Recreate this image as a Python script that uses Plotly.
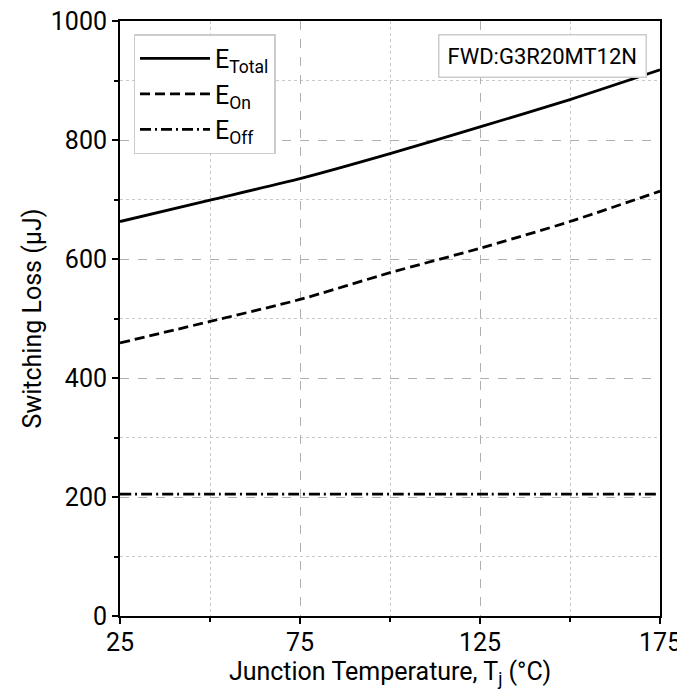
import plotly.graph_objects as go

tj = [25, 50, 75, 100, 125, 150, 175]
e_total = [663, 699, 735, 777, 822, 868, 918]
e_on = [459, 495, 532, 577, 618, 663, 714]
e_off = [205, 205, 205, 205, 205, 205, 205]
series_names = ["E<sub>Total</sub>", "E<sub>On</sub>", "E<sub>Off</sub>"]
x_ticks = [25, 75, 125, 175]
y_ticks = [0, 200, 400, 600, 800, 1000]
device_label = "FWD:G3R20MT12N"

FONT = "Roboto"

fig = go.Figure()
for name, ys, dash in zip(series_names, [e_total, e_on, e_off],
                          ["solid", "10px,5px", "11px,4px,2px,4px"]):
    fig.add_trace(go.Scatter(x=tj, y=ys, mode="lines", name=name,
                             line=dict(color="black", width=2.8, dash=dash, shape="spline", smoothing=0.6)))

axis_common = dict(
    showline=True, linecolor="black", linewidth=2, mirror=True,
    ticks="outside", ticklen=6, tickwidth=1.5, tickcolor="black",
    showgrid=True, gridcolor="#b0b0b0", gridwidth=1, griddash="dash",
    zeroline=False, automargin=False, ticklabeloverflow="allow",
    tickfont=dict(family=FONT, size=25, color="black"),
)

fig.update_xaxes(range=[25, 175], tickvals=x_ticks, ticklabelstandoff=-3,
                 title=dict(text="Junction Temperature, T<sub>j</sub> (°C)", font=dict(family=FONT, size=25, color="black"), standoff=0),
                 minor=dict(tickvals=[50, 100, 150], ticks="outside", ticklen=4, tickcolor="black",
                            showgrid=True, gridcolor="#c8c8c8", griddash="dot", gridwidth=1),
                 **axis_common)
fig.update_yaxes(range=[0, 1000], tickvals=y_ticks,
                 title=dict(text="Switching Loss (μJ)", font=dict(family=FONT, size=25, color="black"), standoff=2),
                 minor=dict(tickvals=[100, 300, 500, 700, 900], ticks="outside", ticklen=4, tickcolor="black",
                            showgrid=True, gridcolor="#c8c8c8", griddash="dot", gridwidth=1),
                 **axis_common)

fig.add_annotation(xref="paper", yref="paper", x=0.975, y=0.978, xanchor="right", yanchor="top",
                   text=device_label, showarrow=False,
                   font=dict(family=FONT, size=22, color="black"),
                   bgcolor="white", bordercolor="#cccccc", borderwidth=1.5, borderpad=8)

fig.update_layout(
    width=677, height=692,
    margin=dict(l=112, r=25, t=13, b=84),
    plot_bgcolor="white", paper_bgcolor="white",
    font=dict(family=FONT, color="black"),
    legend=dict(x=0.025, y=0.978, xanchor="left", yanchor="top",
                bgcolor="white", bordercolor="#cccccc", borderwidth=1.5,
                itemwidth=70,
                font=dict(family=FONT, size=25, color="black")),
    showlegend=True,
)

fig.write_html("out.html")
